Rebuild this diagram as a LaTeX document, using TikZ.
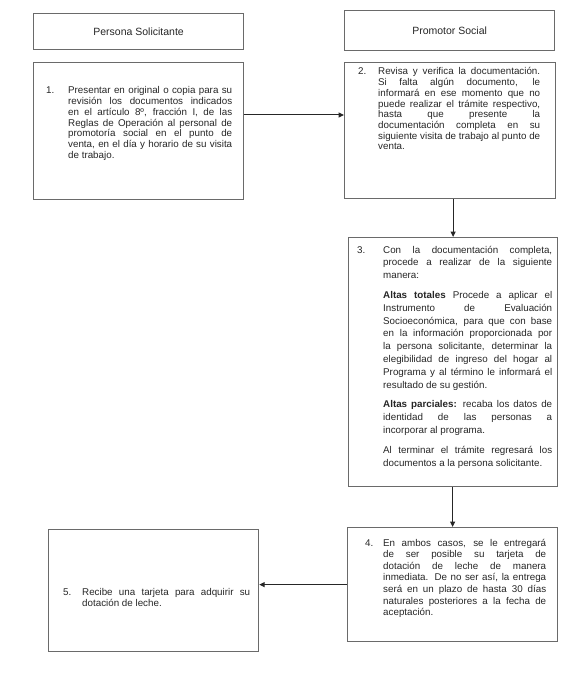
\documentclass[tikz,border=0pt]{standalone}
\usepackage{fontspec}
\setmainfont{Liberation Sans}
\usetikzlibrary{arrows.meta, calc}
\definecolor{framegray}{HTML}{6A6A6A}
\definecolor{inkgray}{HTML}{262626}
\tolerance=10000
\hbadness=10000
\hyphenpenalty=10000
\exhyphenpenalty=10000
\newcommand{\paso}[2]{\leftskip=#1\noindent\hspace*{-#1}\makebox[#1][l]{#2}}

\begin{document}
\begin{tikzpicture}[x=1pt, y=-1pt,
  >={Triangle[length=5.5pt, width=5pt]},
  box/.style={draw=framegray, line width=1.2pt, inner sep=0pt, anchor=north west,
    font=\fontsize{10.5}{12}\selectfont, text=inkgray},
  steptext/.style={anchor=base west, inner sep=0pt, text width=#1, align=justify,
    text=inkgray},
  arr/.style={->, line width=1pt, inkgray},
]

% Frame of the page
\useasboundingbox (0,0) rectangle (586,674);

% =============================================
% Column headers
% =============================================
\node[box, minimum width=210pt, minimum height=36pt] (head1) at (33,13)
  {Persona Solicitante};
\node[box, minimum width=210pt, minimum height=40pt] (head2) at (344,10)
  {Promotor Social};

% =============================================
% Boxes of the steps
% =============================================
\node[box, minimum width=210pt, minimum height=137pt] (b1) at (33,62) {};
\node[box, minimum width=211pt, minimum height=136pt] (b2) at (344,62) {};
\node[box, minimum width=209pt, minimum height=249pt] (b3) at (348,237) {};
\node[box, minimum width=210pt, minimum height=114pt] (b4) at (347,527) {};
\node[box, minimum width=210pt, minimum height=122pt] (b5) at (48,529) {};

% Step 1
\node[steptext=186pt, font=\fontsize{9.8}{10.7}\selectfont] (t1) at (46,94)
  {\paso{22pt}{1.}Presentar en original o copia para su\linebreak
   revisión los documentos indicados\linebreak
   en el artículo 8º, fracción I, de las\linebreak
   Reglas de Operación al personal de\linebreak
   promotoría social en el punto de\linebreak
   venta, en el día y horario de su visita\linebreak
   de trabajo.\par};

% Step 2
\node[steptext=182pt, font=\fontsize{9.8}{10.7}\selectfont] (t2) at (358,75)
  {\paso{20pt}{2.}Revisa y verifica la documentación.\linebreak
   Si falta algún documento, le\linebreak
   informará en ese momento que no\linebreak
   puede realizar el trámite respectivo,\linebreak
   hasta que presente la\linebreak
   documentación completa en su\linebreak
   siguiente visita de trabajo al punto de\linebreak
   venta.\par};

% Step 3
\node[steptext=195pt, font=\fontsize{9.8}{12.8}\selectfont] (t3) at (357,253)
  {\parskip=7pt\paso{26pt}{3.}Con la documentación completa,\linebreak
   procede a realizar de la siguiente\linebreak
   manera:\par
   \textbf{Altas totales} Procede a aplicar el\linebreak
   Instrumento de Evaluación\linebreak
   Socioeconómica, para que con base\linebreak
   en la información proporcionada por\linebreak
   la persona solicitante, determinar la\linebreak
   elegibilidad de ingreso del hogar al\linebreak
   Programa y al término le informará el\linebreak
   resultado de su gestión.\par
   \textbf{Altas parciales:} recaba los datos de\linebreak
   identidad de las personas a\linebreak
   incorporar al programa.\par
   Al terminar el trámite regresará los\linebreak
   documentos a la persona solicitante.\par};

% Step 4
\node[steptext=181pt, font=\fontsize{9.8}{11.6}\selectfont] (t4) at (365,546)
  {\paso{18pt}{4.}En ambos casos, se le entregará\linebreak
   de ser posible su tarjeta de\linebreak
   dotación de leche de manera\linebreak
   inmediata. De no ser así, la entrega\linebreak
   será en un plazo de hasta 30 días\linebreak
   naturales posteriores a la fecha de\linebreak
   aceptación.\par};

% Step 5
\node[steptext=187pt, font=\fontsize{9.8}{11}\selectfont] (t5) at (63,595)
  {\paso{19pt}{5.}Recibe una tarjeta para adquirir su\linebreak
   dotación de leche.\par};

% =============================================
% Connectors
% =============================================
\coordinate (k12) at (0,115);
\draw[arr] (b1.east |- k12) -- (b2.west |- k12);
\draw[arr] (b3.north |- b2.south) -- (b3.north);
\draw[arr] (b4.north |- b3.south) -- (b4.north);
\draw[arr] (b4.west) -- (b4.west -| b5.east);

\end{tikzpicture}
\end{document}
